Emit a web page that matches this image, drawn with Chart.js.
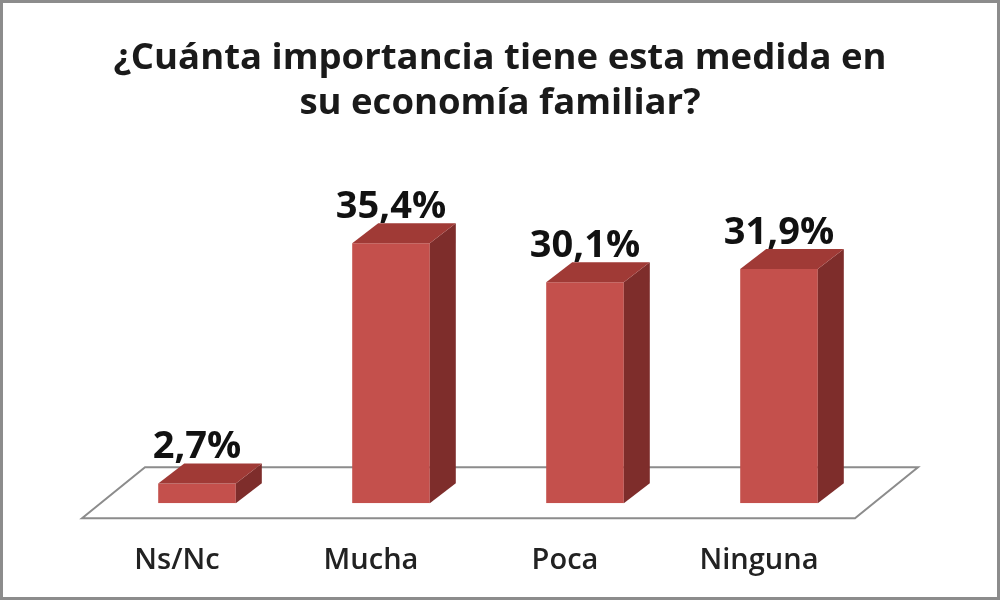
<!DOCTYPE html>
<html>
<head>
<meta charset="utf-8">
<script src="https://cdn.jsdelivr.net/npm/chart.js@4/dist/chart.umd.min.js"></script>
<style>
  html, body { margin: 0; padding: 0; background: #ffffff; }
  #wrap { position: relative; width: 1000px; height: 600px; overflow: hidden; }
  #frame { position: absolute; left: 0; top: 0; width: 1000px; height: 600px; box-sizing: border-box;
           border: 3px solid #8c8c8c; pointer-events: none; }
  canvas { display: block; }
</style>
</head>
<body>
<div id="wrap">
  <canvas id="c" width="1000" height="600"></canvas>
  <div id="frame"></div>
</div>
<script>
const categories = ["Ns/Nc", "Mucha", "Poca", "Ninguna"];
const values = [2.7, 35.4, 30.1, 31.9];
const valueLabels = ["2,7%", "35,4%", "30,1%", "31,9%"];
const titleLines = ["¿Cuánta importancia tiene esta medida en", "su economía familiar?"];

const DX = 26, DY = 20;

const bars3d = {
  id: 'bars3d',
  beforeDatasetsDraw(chart) {
    const ctx = chart.ctx, a = chart.chartArea;
    const base = chart.scales.y.getPixelForValue(0);
    ctx.save();
    ctx.beginPath();
    ctx.moveTo(a.left - 18, base + 15);
    ctx.lineTo(a.left + 45, base - 36);
    ctx.lineTo(a.right + 42, base - 36);
    ctx.lineTo(a.right - 21, base + 15);
    ctx.closePath();
    ctx.fillStyle = '#ffffff';
    ctx.fill();
    ctx.strokeStyle = '#8c8c8c';
    ctx.lineWidth = 2;
    ctx.stroke();
    ctx.restore();
  },
  afterDatasetsDraw(chart) {
    const ctx = chart.ctx;
    const meta = chart.getDatasetMeta(0);
    ctx.save();
    meta.data.forEach((bar, i) => {
      const p = bar.getProps(['x', 'y', 'base', 'width'], true);
      const l = p.x - p.width / 2, r = p.x + p.width / 2, t = p.y, b = p.base;
      ctx.beginPath();
      ctx.moveTo(r, t); ctx.lineTo(r + DX, t - DY); ctx.lineTo(r + DX, b - DY); ctx.lineTo(r, b);
      ctx.closePath();
      ctx.fillStyle = '#7e2d2b';
      ctx.fill();
      ctx.beginPath();
      ctx.moveTo(l, t); ctx.lineTo(l + DX, t - DY); ctx.lineTo(r + DX, t - DY); ctx.lineTo(r, t);
      ctx.closePath();
      ctx.fillStyle = '#a03a36';
      ctx.fill();
      ctx.fillStyle = '#111111';
      ctx.font = 'bold 38px "Open Sans", sans-serif';
      ctx.textAlign = 'center';
      ctx.textBaseline = 'alphabetic';
      ctx.fillText(valueLabels[i], p.x, t - DY - 5);
    });
    ctx.restore();
  }
};

new Chart(document.getElementById('c'), {
  type: 'bar',
  data: {
    labels: categories,
    datasets: [{
      data: values,
      backgroundColor: '#c4504c',
      borderWidth: 0,
      categoryPercentage: 1.0,
      barPercentage: 0.4
    }]
  },
  options: {
    responsive: false,
    animation: false,
    layout: { padding: { left: 100, right: 100, top: 0, bottom: -18 } },
    plugins: {
      legend: { display: false },
      tooltip: { enabled: false },
      title: {
        display: true,
        text: titleLines,
        color: '#1a1a1a',
        font: { family: '"Open Sans", sans-serif', size: 36.5, weight: 'bold', lineHeight: 1.24 },
        padding: { top: 36, bottom: 83 }
      }
    },
    scales: {
      x: {
        grid: { display: false, drawTicks: false },
        border: { display: false },
        ticks: {
          color: '#222222',
          font: { family: '"Open Sans", sans-serif', size: 29, weight: '600' },
          padding: 40,
          labelOffset: -20
        }
      },
      y: {
        display: true,
        position: 'right',
        min: 0,
        max: 40,
        grid: { display: false, drawTicks: false },
        border: { display: false },
        ticks: { display: false },
        afterFit(scale) { scale.width = 24; }
      }
    }
  },
  plugins: [bars3d]
});
</script>
</body>
</html>
